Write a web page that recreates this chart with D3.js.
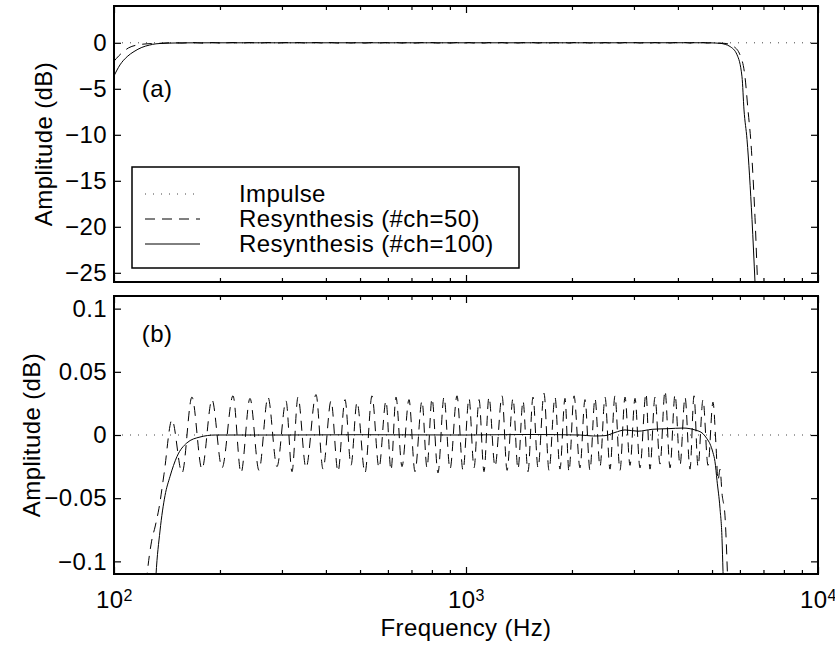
<!DOCTYPE html>
<html lang="en">
<head>
  <meta charset="UTF-8">
  <title>Resynthesis amplitude response</title>
  <style>
    body {
      margin: 0;
      background: #fff;
    }
    text {
      font-family: "Liberation Sans", Arial, Helvetica, sans-serif;
      font-size: 24px;
      letter-spacing: 0.4px;
      fill: #000;
    }
  </style>
</head>
<body>
<div id="chart"></div>
<script src="https://d3js.org/d3.v7.min.js"></script>
<script type="text/javascript">

  // ---- data (frequency in Hz, amplitude in dB) ----
  var impulseFreq = [100, 10000];
  var impulseDb = [0, 0];

  // resynthesis with 100 channels (solid)
  var ch100Freq = [100, 104, 109, 114, 120, 126, 131.6, 135.1, 139.6, 144.2, 151, 161, 175.5, 194,
    300, 500, 1000, 1500, 2109, 2300, 2483, 2650, 2830, 3081, 3377, 3749, 4135, 4473, 4714, 4837,
    4933, 5031, 5097, 5165, 5267, 5337, 5372, 5450, 5623, 5888, 6083, 6163, 6285, 6494, 6623, 6700];
  var ch100Db = [-3.6, -2.4, -1.5, -0.95, -0.5, -0.25, -0.111, -0.076, -0.048, -0.033, -0.017, -0.0063, -0.0016, 0,
    0, 0.0002, 0, 0.0004, 0, -0.0008, -0.0005, 0.002, 0.004, 0.003, 0.0045, 0.005, 0.0055, 0.004, 0.001, -0.003,
    -0.007, -0.014, -0.021, -0.036, -0.058, -0.082, -0.108, -0.17, -0.4, -1.3, -3.7, -7.3, -10.5, -19.2, -26, -30];

  // resynthesis with 50 channels (dashed), ripple in the pass band
  var ch50Freq = [100, 103, 106, 110, 115, 120, 124.1, 127.9, 131, 134.2, 138.7, 146.1, 156.1,
    166.5, 177.8, 189.8, 202.7, 217.8, 229.5, 243.4, 258.2, 273.8, 290.4, 308.1, 320.4, 333.2, 351.1,
    374.9, 392.5, 413.6, 432.9, 453.2, 471.3, 490.2, 516.5, 540.7, 566, 592.5, 612.2, 632.6, 657.9,
    688.7, 716.3, 749.9, 774.8, 800.6, 832.6, 866, 900.6, 942.8, 980.6, 1020, 1054, 1089, 1125,
    1162, 1209, 1266, 1308, 1360, 1405, 1452, 1500, 1550, 1602, 1666, 1721, 1790, 1849, 1911, 1961,
    2027, 2108, 2178, 2250, 2325, 2403, 2483, 2565, 2650, 2738, 2830, 2924, 3021, 3121, 3246, 3332,
    3443, 3558, 3676, 3799, 3925, 4055, 4190, 4329, 4444, 4562, 4713, 4870, 5031,
    5131, 5198, 5270, 5336, 5442, 5514, 5586, 5736, 6002, 6203, 6326, 6453, 6623, 6753, 6900];
  var ch50Db = [-2.0, -1.45, -1.0, -0.55, -0.28, -0.16, -0.111, -0.084, -0.072, -0.058, -0.031, 0.012, -0.03,
    0.030, -0.027, 0.028, -0.026, 0.031, -0.030, 0.029, -0.028, 0.030, -0.025, 0.027, -0.029, 0.030, -0.026,
    0.032, -0.027, 0.027, -0.029, 0.028, -0.024, 0.026, -0.030, 0.031, -0.026, 0.027, -0.028, 0.030, -0.025,
    0.028, -0.029, 0.027, -0.026, 0.029, -0.030, 0.030, -0.027, 0.031, -0.028, 0.029, -0.026, 0.028, -0.029,
    0.030, -0.025, 0.031, -0.028, 0.029, -0.027, 0.027, -0.029, 0.030, -0.026, 0.033, -0.028, 0.030, -0.027, 0.029, -0.029,
    0.031, -0.026, 0.028, -0.028, 0.029, -0.025, 0.030, -0.027, 0.031, -0.028, 0.030, -0.024, 0.029, -0.026, 0.033, -0.027,
    0.030, -0.023, 0.035, -0.026, 0.032, -0.024, 0.030, -0.027, 0.031, -0.025, 0.028, -0.024, 0.026,
    -0.008, -0.036, -0.027, -0.046, -0.064, -0.1, -0.15, -0.35, -1.3, -3.7, -7.3, -11, -19, -27, -32];

  var legendLabels = ["Impulse", "Resynthesis (#ch=50)", "Resynthesis (#ch=100)"];
  var freqMajor = [100, 1000, 10000];
  var freqMinor = [200, 300, 400, 500, 600, 700, 800, 900, 2000, 3000, 4000, 5000, 6000, 7000, 8000, 9000];
  var dbTicksA = [-25, -20, -15, -10, -5, 0];
  var dbTicksB = [-0.1, -0.05, 0, 0.05, 0.1];

  //Width and height
  var w = 835;
  var h = 646;
  var left = 114, right = 818;

  var svg = d3.select("#chart")
          .append("svg")
          .attr("width", w)
          .attr("height", h);

  var defs = svg.append("defs");

  var xScale = d3.scaleLog()
          .domain([100, 10000])
          .range([left, right]);

  var series = [
    {name: "impulse", data: d3.zip(impulseFreq, impulseDb), dash: "1,7", color: "#444"},
    {name: "ch50", data: d3.zip(ch50Freq, ch50Db), dash: "10,7", color: "#000"},
    {name: "ch100", data: d3.zip(ch100Freq, ch100Db), dash: null, color: "#000"}
  ];

  var panels = [
    {id: "a", top: 6, bottom: 282, domain: [-26, 4], ticks: dbTicksA, fmt: d => d === 0 ? "0" : "\u2212" + Math.abs(d),
      tag: "(a)", tagAt: [120, -5], xLabels: false, labelX: 52},
    {id: "b", top: 296, bottom: 574, domain: [-0.11, 0.11], ticks: dbTicksB,
      fmt: d => d === 0 ? "0" : (d < 0 ? "\u2212" : "") + String(Math.abs(d)),
      tag: "(b)", tagAt: [120, 0.08], xLabels: true, labelX: 40}
  ];

  panels.forEach(function(p) {
    var yScale = d3.scaleLinear()
            .domain(p.domain)
            .range([p.bottom, p.top]);

    defs.append("clipPath")
            .attr("id", "clip-" + p.id)
            .append("rect")
            .attr("x", left)
            .attr("y", p.top)
            .attr("width", right - left)
            .attr("height", p.bottom - p.top);

    var line = d3.line()
            .x(d => xScale(d[0]))
            .y(d => yScale(d[1]))
            .curve(d3.curveMonotoneX);

    // curves
    svg.append("g")
            .attr("clip-path", "url(#clip-" + p.id + ")")
            .selectAll("path")
            .data(series)
            .enter()
            .append("path")
            .attr("d", d => line(d.data))
            .attr("fill", "none")
            .attr("stroke", d => d.color)
            .attr("stroke-width", 1)
            .attr("stroke-dasharray", d => d.dash);

    // y axes, ticks pointing inward
    svg.append("g")
            .attr("transform", `translate(${left},0)`)
            .call(d3.axisLeft(yScale).tickValues(p.ticks).tickSize(-7).tickPadding(7).tickFormat(p.fmt));
    svg.append("g")
            .attr("transform", `translate(${right},0)`)
            .call(d3.axisRight(yScale).tickValues(p.ticks).tickSize(-7).tickFormat(""));

    // x axes, major and minor ticks on top and bottom
    var xb = svg.append("g")
            .attr("transform", `translate(0,${p.bottom})`)
            .call(d3.axisBottom(xScale).tickValues(freqMajor).tickSize(-7).tickPadding(17).tickFormat(""));
    svg.append("g")
            .attr("transform", `translate(0,${p.bottom})`)
            .call(d3.axisBottom(xScale).tickValues(freqMinor).tickSize(-4).tickFormat(""));
    svg.append("g")
            .attr("transform", `translate(0,${p.top})`)
            .call(d3.axisTop(xScale).tickValues(freqMajor).tickSize(-7).tickFormat(""));
    svg.append("g")
            .attr("transform", `translate(0,${p.top})`)
            .call(d3.axisTop(xScale).tickValues(freqMinor).tickSize(-4).tickFormat(""));

    svg.selectAll(".domain").remove();
    svg.selectAll(".tick line").attr("stroke-width", 1.2);

    if (p.xLabels) {
      xb.selectAll(".tick text").each(function(d) {
        var t = d3.select(this);
        t.append("tspan").text("10");
        t.append("tspan")
                .attr("dy", "-0.42em")
                .style("font-size", "16px")
                .text(Math.round(Math.log10(d)));
      });
    }

    // box
    svg.append("rect")
            .attr("x", left)
            .attr("y", p.top)
            .attr("width", right - left)
            .attr("height", p.bottom - p.top)
            .attr("fill", "none")
            .attr("stroke", "#000")
            .attr("stroke-width", 2);

    // panel tag
    svg.append("text")
            .attr("x", xScale(p.tagAt[0]))
            .attr("y", yScale(p.tagAt[1]))
            .attr("dy", "0.35em")
            .text(p.tag);

    // y label
    svg.append("text")
            .attr("transform", `translate(${p.labelX},${(p.top + p.bottom) / 2}) rotate(-90)`)
            .attr("text-anchor", "middle")
            .text("Amplitude (dB)");
  });

  // x label
  svg.append("text")
          .attr("x", (left + right) / 2)
          .attr("y", 636)
          .attr("text-anchor", "middle")
          .text("Frequency (Hz)");

  // legend
  var legend = svg.append("g");
  legend.append("rect")
          .attr("x", 132)
          .attr("y", 167)
          .attr("width", 387)
          .attr("height", 101)
          .attr("fill", "#fff")
          .attr("stroke", "#000")
          .attr("stroke-width", 1.5);

  var rows = legend.selectAll("g.row")
          .data(series)
          .enter()
          .append("g")
          .attr("class", "row")
          .attr("transform", (d, i) => `translate(0,${194 + i * 25})`);

  rows.append("line")
          .attr("x1", 145)
          .attr("x2", 200)
          .attr("stroke", d => d.color)
          .attr("stroke-width", 1)
          .attr("stroke-dasharray", d => d.dash);

  rows.append("text")
          .attr("x", 239)
          .attr("dy", "0.35em")
          .text((d, i) => legendLabels[i]);

</script>
</body>
</html>
